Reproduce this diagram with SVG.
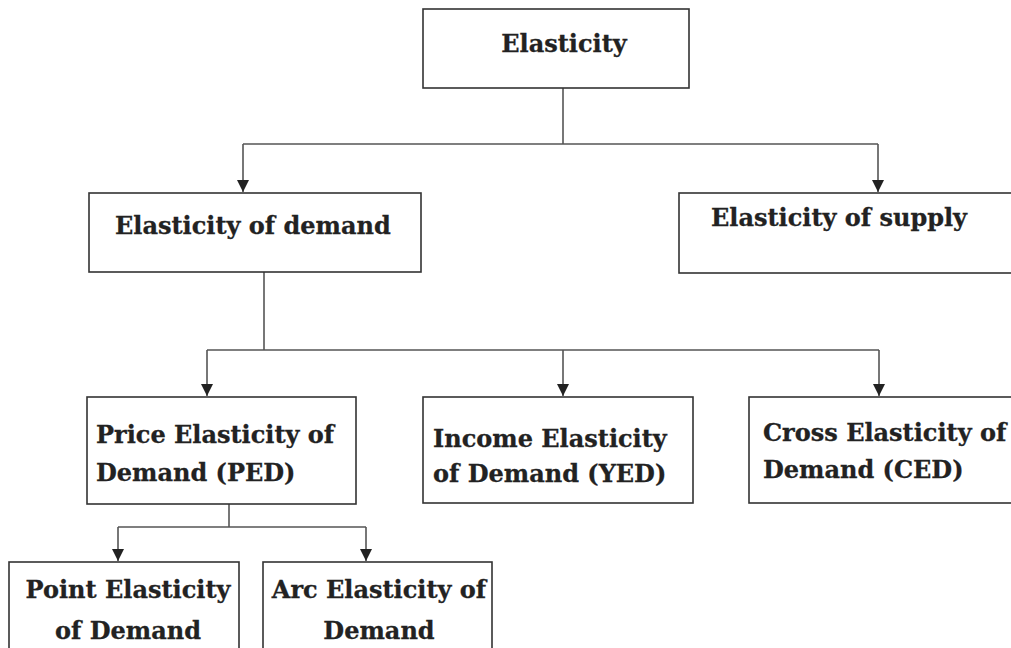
<svg xmlns="http://www.w3.org/2000/svg" width="1011" height="648" viewBox="0 0 1011 648">
<style>
.box{fill:#fff;stroke:#333;stroke-width:1.6}
.t{font-family:"DejaVu Serif","Liberation Serif",serif;font-weight:bold;font-size:24px;fill:#222;stroke:#222;stroke-width:0.3}
.c{text-anchor:middle}
.ln{fill:none;stroke:#555;stroke-width:1.6}
</style>
<defs>
<marker id="ah" markerUnits="userSpaceOnUse" markerWidth="14" markerHeight="16" refX="12" refY="7" orient="auto" viewBox="0 0 14 16">
<path d="M0,1 L12,7 L0,13 Z" fill="#222"/>
</marker>
</defs>
<rect width="1011" height="648" fill="#fff"/>
<g id="connectors">
<path class="ln" d="M563,88 V144"/>
<path class="ln" d="M243,144 H878"/>
<path class="ln" d="M243,144 V192" marker-end="url(#ah)"/>
<path class="ln" d="M878,144 V192" marker-end="url(#ah)"/>
<path class="ln" d="M264,272 V350"/>
<path class="ln" d="M207,350 H879"/>
<path class="ln" d="M207,350 V396" marker-end="url(#ah)"/>
<path class="ln" d="M563,350 V396" marker-end="url(#ah)"/>
<path class="ln" d="M879,350 V396" marker-end="url(#ah)"/>
<path class="ln" d="M229,504 V527"/>
<path class="ln" d="M118,527 H366"/>
<path class="ln" d="M118,527 V561" marker-end="url(#ah)"/>
<path class="ln" d="M366,527 V561" marker-end="url(#ah)"/>
</g>
<g id="elasticity">
<rect class="box" x="423" y="9" width="266" height="79"/>
<text class="t c" x="564" y="52">Elasticity</text>
</g>
<g id="demand">
<rect class="box" x="89" y="193" width="332" height="79"/>
<text class="t" x="115" y="234">Elasticity of demand</text>
</g>
<g id="supply">
<rect class="box" x="679" y="193" width="340" height="80"/>
<text class="t" x="711" y="226">Elasticity of supply</text>
</g>
<g id="ped">
<rect class="box" x="87" y="397" width="269" height="107"/>
<text class="t" x="96" y="443">Price Elasticity of</text>
<text class="t" x="96" y="481">Demand (PED)</text>
</g>
<g id="yed">
<rect class="box" x="423" y="397" width="270" height="106"/>
<text class="t" x="433" y="447">Income Elasticity</text>
<text class="t" x="433" y="482">of Demand (YED)</text>
</g>
<g id="ced">
<rect class="box" x="749" y="397" width="270" height="106"/>
<text class="t" x="763" y="441">Cross Elasticity of</text>
<text class="t" x="763" y="478">Demand (CED)</text>
</g>
<g id="point">
<rect class="box" x="9" y="562" width="230" height="100"/>
<text class="t c" x="128" y="598">Point Elasticity</text>
<text class="t c" x="128" y="639">of Demand</text>
</g>
<g id="arc">
<rect class="box" x="263" y="562" width="229" height="100"/>
<text class="t c" x="379" y="598">Arc Elasticity of</text>
<text class="t c" x="379" y="639">Demand</text>
</g>
</svg>
